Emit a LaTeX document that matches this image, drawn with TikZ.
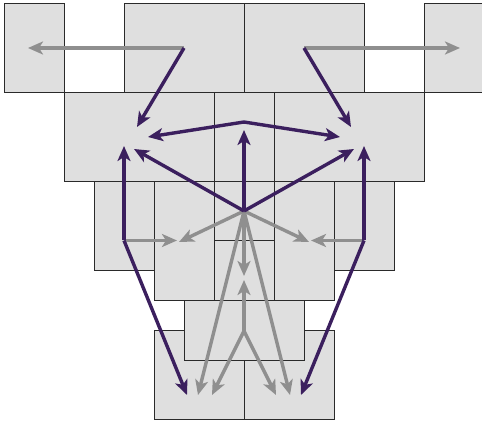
\documentclass[tikz,border=0pt]{standalone}
\usetikzlibrary{arrows.meta}
\definecolor{boxfill}{HTML}{DFDFDF}
\definecolor{boxline}{HTML}{2A2A2A}
\definecolor{purp}{HTML}{3B1F5E}
\definecolor{grayarr}{HTML}{8F8F8F}
\tikzset{
  box/.style={draw=boxline, fill=boxfill, line width=0.9pt, inner sep=0pt, outer sep=0pt, anchor=north west},
  parr/.style={draw=purp, line width=3.4pt, -{Stealth[length=15pt,width=13pt,inset=4pt]}},
  garr/.style={draw=grayarr, line width=3.4pt, -{Stealth[length=15pt,width=13pt,inset=4pt]}},
}
\begin{document}
\begin{tikzpicture}[x=1pt,y=-1pt]
\useasboundingbox (0,0) rectangle (482,422);
% top row
\node[box, minimum width=60pt, minimum height=89pt] (tl) at (4.5,3) {};
\node[box, minimum width=120pt, minimum height=89pt] (tm1) at (124,3) {};
\node[box, minimum width=120pt, minimum height=89pt] (tm2) at (244,3) {};
\node[box, minimum width=60pt, minimum height=89pt] (tr) at (424,3) {};
% second row
\node[box, minimum width=150pt, minimum height=89pt] (r2a) at (64,92) {};
\node[box, minimum width=60pt, minimum height=89pt] (r2b) at (214,92) {};
\node[box, minimum width=150pt, minimum height=89pt] (r2c) at (274,92) {};
% third row
\node[box, minimum width=60pt, minimum height=89pt] (r3a) at (94,181) {};
\node[box, minimum width=60pt, minimum height=119pt] (r3b) at (154,181) {};
\node[box, minimum width=60pt, minimum height=59.5pt] (r3c) at (214,181) {};
\node[box, minimum width=60pt, minimum height=59.5pt] (r3d) at (214,240.5) {};
\node[box, minimum width=60pt, minimum height=119pt] (r3e) at (274,181) {};
\node[box, minimum width=60pt, minimum height=89pt] (r3f) at (334,181) {};
% bottom
\node[box, minimum width=90pt, minimum height=89pt] (b1) at (154,330) {};
\node[box, minimum width=90pt, minimum height=89pt] (b2) at (244,330) {};
\node[box, minimum width=120pt, minimum height=60pt] (m4) at (184,300) {};
% junction points
\coordinate (P1) at (184,48);
\coordinate (P2) at (304,48);
\coordinate (C) at (244,122);
\coordinate (D) at (244,211);
\coordinate (L) at (124,240.5);
\coordinate (R) at (364,240.5);
\coordinate (E) at (244,331);
% tips
\coordinate (tP1g) at (28,48);
\coordinate (tP2g) at (460,48);
\coordinate (tP1p) at (137,127);
\coordinate (tP2p) at (351,127);
\coordinate (tCl) at (148,137);
\coordinate (tCr) at (340,137);
\coordinate (tDu) at (244,130);
\coordinate (tDl) at (134,149);
\coordinate (tDr) at (354,149);
\coordinate (tLu) at (124,146);
\coordinate (tRu) at (364,146);
\coordinate (tLr) at (177,240.5);
\coordinate (tRl) at (311,240.5);
\coordinate (tLd) at (187,395);
\coordinate (tRd) at (301,395);
\coordinate (tDgl) at (179,242);
\coordinate (tDgr) at (309,242);
\coordinate (tDgd) at (244,276);
\coordinate (tDbl) at (198,395);
\coordinate (tDbr) at (290,395);
\coordinate (tEu) at (244,280);
\coordinate (tEl) at (212,395);
\coordinate (tEr) at (276,395);
% gray arrows
\draw[garr] (P1) -- (tP1g);
\draw[garr] (P2) -- (tP2g);
\draw[garr] (L) -- (tLr);
\draw[garr] (R) -- (tRl);
\draw[garr] (D) -- (tDgl);
\draw[garr] (D) -- (tDgr);
\draw[garr] (D) -- (tDgd);
\draw[garr] (D) -- (tDbl);
\draw[garr] (D) -- (tDbr);
\draw[garr] (E) -- (tEu);
\draw[garr] (E) -- (tEl);
\draw[garr] (E) -- (tEr);
% purple arrows
\draw[parr] (P1) -- (tP1p);
\draw[parr] (P2) -- (tP2p);
\draw[parr] (C) -- (tCl);
\draw[parr] (C) -- (tCr);
\draw[parr] (D) -- (tDu);
\draw[parr] (D) -- (tDl);
\draw[parr] (D) -- (tDr);
\draw[parr] (L) -- (tLu);
\draw[parr] (R) -- (tRu);
\draw[parr] (L) -- (tLd);
\draw[parr] (R) -- (tRd);
\end{tikzpicture}
\end{document}
